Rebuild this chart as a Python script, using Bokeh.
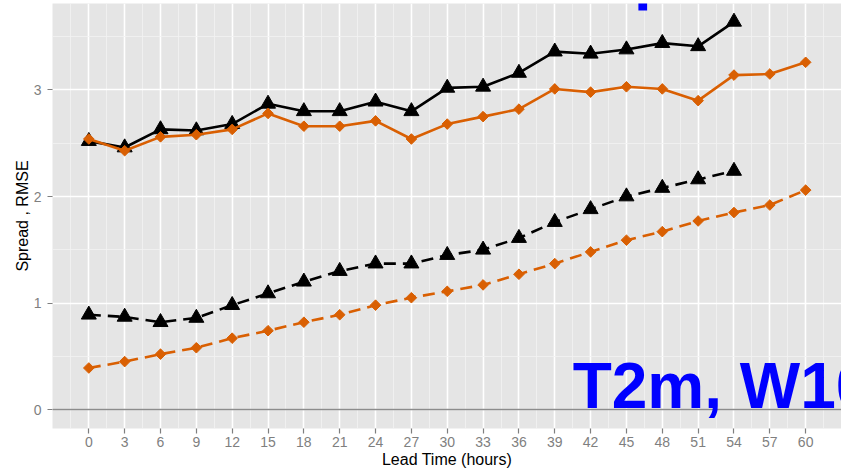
from bokeh.plotting import figure
from bokeh.models import FixedTicker, Label, Span, BoxAnnotation, Range1d
from bokeh.embed import file_html
from bokeh.resources import INLINE

# Lead times (hours)
lead_hours = [0, 3, 6, 9, 12, 15, 18, 21, 24, 27, 30, 33, 36, 39, 42, 45, 48, 51, 54, 57, 60]

# Black series (available up to 54 h)
rmse_black = [2.52, 2.46, 2.63, 2.62, 2.68, 2.87, 2.80, 2.80, 2.89, 2.80,
              3.02, 3.03, 3.16, 3.36, 3.34, 3.38, 3.44, 3.41, 3.64]
spread_black = [0.89, 0.87, 0.82, 0.86, 0.98, 1.09, 1.20, 1.30, 1.37, 1.37,
                1.45, 1.50, 1.61, 1.76, 1.88, 2.00, 2.08, 2.16, 2.24]

# Orange series (up to 60 h)
rmse_orange = [2.54, 2.43, 2.56, 2.58, 2.63, 2.78, 2.66, 2.66, 2.71, 2.54,
               2.68, 2.75, 2.82, 3.01, 2.98, 3.03, 3.01, 2.90, 3.14, 3.15, 3.26]
spread_orange = [0.39, 0.45, 0.52, 0.58, 0.67, 0.74, 0.82, 0.89, 0.98, 1.05,
                 1.11, 1.17, 1.27, 1.37, 1.48, 1.59, 1.67, 1.77, 1.85, 1.92, 2.06]

x_ticks = list(range(0, 61, 3))
x_minor = [t - 1.5 for t in range(0, 64, 3)]
y_ticks = [0, 1, 2, 3]
y_minor = [0.5, 1.5, 2.5, 3.5]

BLACK = "#000000"
ORANGE = "#D95F02"
PANEL = "#E5E5E5"
TICK_GREY = "#7F7F7F"
FONT = "Liberation Sans"

p = figure(width=841, height=471, output_backend="svg", toolbar_location=None,
           x_range=Range1d(-3.04, 63.0), y_range=Range1d(-0.178, 3.812),
           min_border_left=52, min_border_right=0, min_border_top=3,
           min_border_bottom=43)

p.background_fill_color = PANEL
p.border_fill_color = "white"
p.outline_line_color = None

# grid: white major lines, lighter minor lines
p.xaxis.ticker = FixedTicker(ticks=x_ticks, minor_ticks=x_minor)
p.yaxis.ticker = FixedTicker(ticks=y_ticks, minor_ticks=y_minor)
for g in (p.xgrid, p.ygrid):
    g.grid_line_color = "white"
    g.grid_line_width = 1.6
    g.minor_grid_line_color = "#F2F2F2"
    g.minor_grid_line_width = 0.8

for ax in (p.xaxis, p.yaxis):
    ax.axis_line_color = None
    ax.major_tick_line_color = TICK_GREY
    ax.major_tick_line_width = 1.2
    ax.major_tick_in = 0
    ax.major_tick_out = 5
    ax.minor_tick_line_color = None
    ax.major_label_text_color = TICK_GREY
    ax.major_label_text_font = FONT
    ax.major_label_text_font_size = "14px"
    ax.axis_label_text_font = FONT
    ax.axis_label_text_font_size = "16px"
    ax.axis_label_text_font_style = "normal"
    ax.axis_label_text_color = "black"

p.xaxis.axis_label = "Lead Time (hours)"
p.yaxis.axis_label = "Spread , RMSE"
p.xaxis.major_label_standoff = 3
p.yaxis.major_label_standoff = 6
p.xaxis.axis_label_standoff = 1
p.yaxis.axis_label_standoff = 0

# zero reference line
p.add_layout(Span(location=0, dimension="width", line_color="#8C8C8C", line_width=1.6))

DASH = "12 7"
hb = lead_hours[:len(rmse_black)]

# black series
p.line(hb, rmse_black, line_color=BLACK, line_width=2.6)
p.scatter(hb, rmse_black, marker="triangle", size=15, fill_color=BLACK, line_color=BLACK)
p.line(hb, spread_black, line_color=BLACK, line_width=2.6, line_dash=DASH)
p.scatter(hb, spread_black, marker="triangle", size=15, fill_color=BLACK, line_color=BLACK)

# orange series
p.line(lead_hours, rmse_orange, line_color=ORANGE, line_width=2.6)
p.scatter(lead_hours, rmse_orange, marker="square", angle=0.785398, size=7.5,
          fill_color=ORANGE, line_color=ORANGE)
p.line(lead_hours, spread_orange, line_color=ORANGE, line_width=2.6, line_dash=DASH)
p.scatter(lead_hours, spread_orange, marker="square", angle=0.785398, size=7.5,
          fill_color=ORANGE, line_color=ORANGE)

# variable annotation
p.add_layout(Label(x=40.5, y=0.22, text="T2m, W10", text_color="blue",
                   text_font=FONT, text_font_size="64px", text_font_style="bold",
                   text_baseline="alphabetic"))
p.add_layout(BoxAnnotation(left=46.0, right=46.73, bottom=3.746, top=4.0,
                           fill_color="blue", fill_alpha=1.0, line_color=None))

open("out.html", "w").write(file_html(p, INLINE))
